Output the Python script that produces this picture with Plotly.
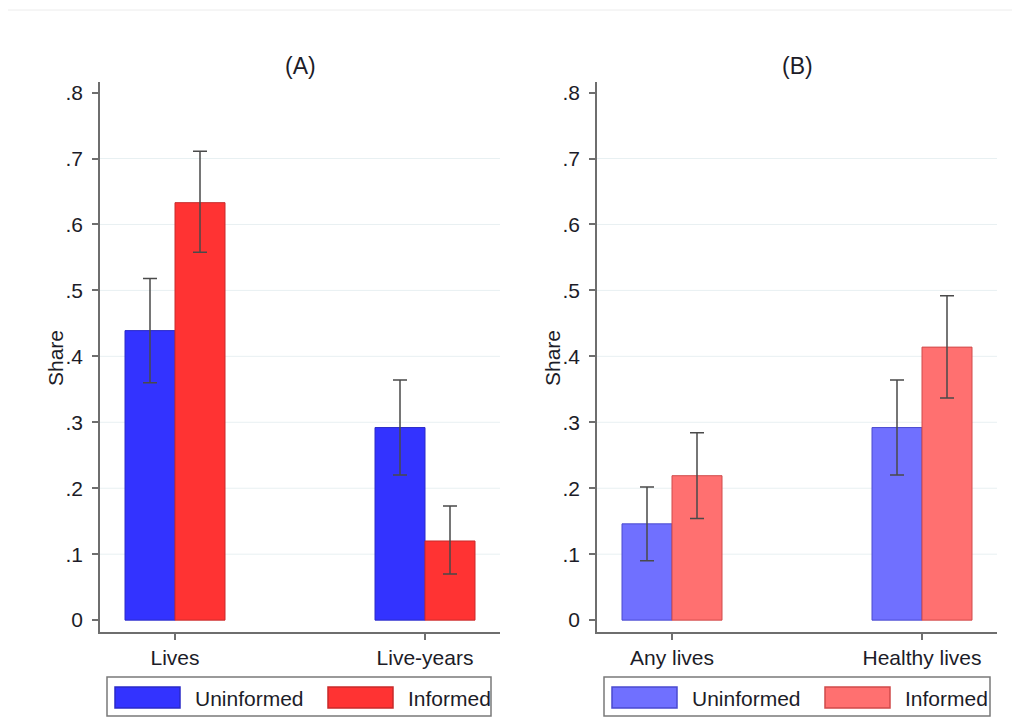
import plotly.graph_objects as go

# ---------------- data ----------------
cats_a = ["Lives", "Live-years"]
uninf_a = [0.439, 0.292]
uninf_a_lo = [0.360, 0.220]
uninf_a_hi = [0.518, 0.364]
inf_a = [0.633, 0.120]
inf_a_lo = [0.558, 0.070]
inf_a_hi = [0.711, 0.173]

cats_b = ["Any lives", "Healthy lives"]
uninf_b = [0.146, 0.292]
uninf_b_lo = [0.090, 0.220]
uninf_b_hi = [0.202, 0.364]
inf_b = [0.219, 0.414]
inf_b_lo = [0.154, 0.337]
inf_b_hi = [0.284, 0.492]

series_names = ["Uninformed", "Informed"]
tick_vals = [0, 0.1, 0.2, 0.3, 0.4, 0.5, 0.6, 0.7, 0.8]
tick_text = ["0", ".1", ".2", ".3", ".4", ".5", ".6", ".7", ".8"]
grid_vals = [0.1, 0.2, 0.3, 0.4, 0.5, 0.6, 0.7]

# ---------------- styles ----------------
OFF = 8  # page body margin
W, H = 1020 - OFF, 717 - OFF
FONT = "Liberation Sans, Arial, sans-serif"
TXT = "#1c1c28"
AXC = "#6e6e6e"
FS = 21
colors_a = [("#3333ff", "#2a2ac8"), ("#ff3333", "#c82a2a")]
colors_b = [("#7070ff", "#4a4ad0"), ("#ff7070", "#d04a4a")]

def px_x(p):
    return (p - OFF) / W

def px_y(p):
    return 1 - (p - OFF) / H

fig = go.Figure()

def add_bars(cats, vals, lo, hi, name, col, xa, ya, og):
    fig.add_trace(go.Bar(
        x=cats, y=vals, name=name, xaxis=xa, yaxis=ya, offsetgroup=og,
        marker=dict(color=col[0], line=dict(color=col[1], width=1)),
        error_y=dict(type="data", symmetric=False,
                     array=[h - v for h, v in zip(hi, vals)],
                     arrayminus=[v - l for v, l in zip(vals, lo)],
                     color="#4a4a4a", thickness=1.5, width=7),
        showlegend=False,
    ))

add_bars(cats_a, uninf_a, uninf_a_lo, uninf_a_hi, series_names[0], colors_a[0], "x", "y", "u")
add_bars(cats_a, inf_a, inf_a_lo, inf_a_hi, series_names[1], colors_a[1], "x", "y", "i")
add_bars(cats_b, uninf_b, uninf_b_lo, uninf_b_hi, series_names[0], colors_b[0], "x2", "y2", "u")
add_bars(cats_b, inf_b, inf_b_lo, inf_b_hi, series_names[1], colors_b[1], "x2", "y2", "i")

ydom = [px_y(632), px_y(82)]
yrange = [-0.018, 0.816]

def xaxis(dom):
    return dict(domain=dom, range=[-0.3, 1.3], showline=True, linecolor=AXC, linewidth=1.5,
                ticks="outside", ticklen=6, tickcolor=AXC, tickwidth=1.5,
                showgrid=False, zeroline=False, fixedrange=True,
                tickfont=dict(family=FONT, size=FS, color=TXT))

def yaxis(anchor):
    return dict(domain=ydom, range=yrange, anchor=anchor, showline=True, linecolor=AXC,
                linewidth=1.5, ticks="outside", ticklen=6, tickcolor=AXC, tickwidth=1.5,
                tickvals=tick_vals, ticktext=tick_text, showgrid=False, zeroline=False,
                ticklabelstandoff=5,
                tickfont=dict(family=FONT, size=FS, color=TXT))

xa = xaxis([px_x(100), px_x(500)]); xa["anchor"] = "y"
xb = xaxis([px_x(597), px_x(997)]); xb["anchor"] = "y2"
fig.update_layout(
    width=W, height=H, margin=dict(l=0, r=0, t=0, b=0),
    paper_bgcolor="white", plot_bgcolor="white",
    barmode="group", bargap=0.6, bargroupgap=0,
    xaxis=xa, yaxis=yaxis("x"), xaxis2=xb, yaxis2=yaxis("x2"),
    font=dict(family=FONT, color=TXT),
)

shapes = []
# gridlines (behind bars)
for xr, yr in (("x", "y"), ("x2", "y2")):
    for g in grid_vals:
        shapes.append(dict(type="line", xref=xr + " domain", yref=yr, x0=0, x1=1, y0=g, y1=g,
                           line=dict(color="#e8f0f2", width=1), layer="below"))
# faint outer frame (top and left edges)
shapes.append(dict(type="line", xref="paper", yref="paper", x0=px_x(3), x1=1.0,
                   y0=px_y(10), y1=px_y(10), line=dict(color="#ececec", width=1)))
shapes.append(dict(type="line", xref="paper", yref="paper", x0=px_x(3), x1=px_x(3),
                   y0=0.0, y1=px_y(10), line=dict(color="#ececec", width=1)))

annotations = []
for cx, t in ((300, "(A)"), (797, "(B)")):
    annotations.append(dict(text=t, x=px_x(cx), y=px_y(66), xref="paper", yref="paper",
                            showarrow=False, xanchor="center", yanchor="middle",
                            font=dict(family=FONT, size=23, color=TXT)))
for cx in (55, 552):
    annotations.append(dict(text="Share", x=px_x(cx), y=px_y(358), xref="paper", yref="paper",
                            showarrow=False, textangle=-90, xanchor="center", yanchor="middle",
                            font=dict(family=FONT, size=FS, color=TXT)))

# legends drawn as frames with swatches
for (bx0, bx1), cols in (((107, 491), colors_a), ((604, 990), colors_b)):
    shapes.append(dict(type="rect", xref="paper", yref="paper", x0=px_x(bx0), x1=px_x(bx1),
                       y0=px_y(716), y1=px_y(677), line=dict(color="#7a7a7a", width=1.5),
                       fillcolor="white"))
    for i, (nm, col) in enumerate(zip(series_names, cols)):
        sx0 = bx0 + 8 + i * 213
        shapes.append(dict(type="rect", xref="paper", yref="paper", x0=px_x(sx0), x1=px_x(sx0 + 65),
                           y0=px_y(708), y1=px_y(687), fillcolor=col[0],
                           line=dict(color=col[1], width=1.5)))
        annotations.append(dict(text=nm, x=px_x(sx0 + 78), y=px_y(698), xref="paper", yref="paper",
                                showarrow=False, xanchor="left", yanchor="middle",
                                font=dict(family=FONT, size=FS, color=TXT)))

fig.update_layout(shapes=shapes, annotations=annotations)
fig.write_html("out.html")
